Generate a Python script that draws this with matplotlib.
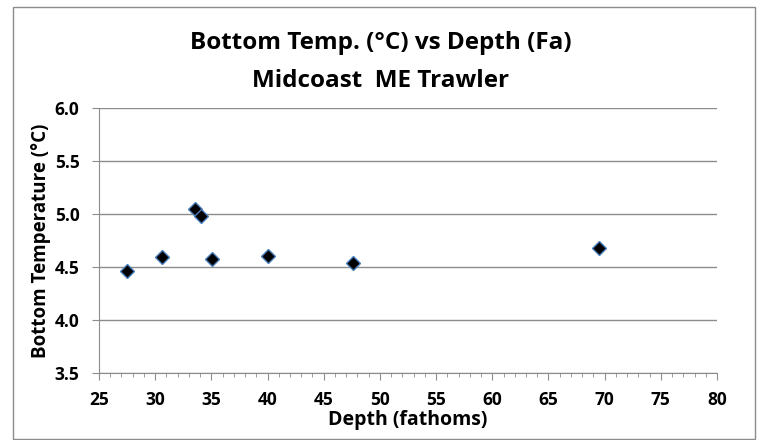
import matplotlib
matplotlib.use("Agg")
import matplotlib.pyplot as plt
from matplotlib.patches import Rectangle
from matplotlib.ticker import MultipleLocator

depth = [27.5, 30.6, 33.5, 34.1, 35.1, 40.0, 47.6, 69.5]
temp = [4.46, 4.59, 5.05, 4.98, 4.58, 4.60, 4.54, 4.68]

plt.rcParams['font.family'] = ['Open Sans', 'DejaVu Sans']
plt.rcParams['font.weight'] = 'bold'

fig = plt.figure(figsize=(7.61, 4.4), dpi=100)
W, H = 761, 440
fig.patches.append(Rectangle((13 / W, 1 / H), 742 / W, 432 / H, transform=fig.transFigure,
                             fill=False, edgecolor='#8c8c8c', linewidth=1.0))

ax = fig.add_axes([99 / W, 1 - 373 / H, 618 / W, 265 / H])
ax.plot(depth, temp, linestyle='none', marker='D', markersize=7,
        markerfacecolor='black', markeredgecolor='#4a7ebb', markeredgewidth=1.0, zorder=3)

ax.set_xlim(25, 80)
ax.set_ylim(3.5, 6.0)
ax.xaxis.set_major_locator(MultipleLocator(5))
ax.xaxis.set_minor_locator(MultipleLocator(1))
ax.yaxis.set_major_locator(MultipleLocator(0.5))
ax.yaxis.set_major_formatter(plt.FormatStrFormatter('%.1f'))
ax.grid(axis='y', color='#8c8c8c', linewidth=1.0)
ax.set_axisbelow(True)
for s in ['top', 'right']:
    ax.spines[s].set_visible(False)
for s in ['left', 'bottom']:
    ax.spines[s].set_color('#8c8c8c')
ax.tick_params(which='major', direction='out', length=5, color='#8c8c8c', labelsize=12.5)
ax.tick_params(axis='x', which='major', pad=8)
ax.tick_params(axis='y', which='major', pad=9)
ax.tick_params(which='minor', direction='out', length=3, color='#8c8c8c')
ax.tick_params(axis='y', which='minor', length=0)
for lab in ax.get_xticklabels() + ax.get_yticklabels():
    lab.set_fontweight('bold')

ax.set_xlabel('Depth (fathoms)', fontsize=14, fontweight='bold', labelpad=1)
ax.set_ylabel('Bottom Temperature (°C)', fontsize=13.5, fontweight='bold', labelpad=3)
fig.text(0.5, 1 - 43 / H, 'Bottom Temp. (°C) vs Depth (Fa)', ha='center', va='center',
         fontsize=17.5, fontweight='bold')
fig.text(0.5, 1 - 81 / H, 'Midcoast  ME Trawler', ha='center', va='center',
         fontsize=17.5, fontweight='bold')

fig.savefig('out.png', dpi=100)
